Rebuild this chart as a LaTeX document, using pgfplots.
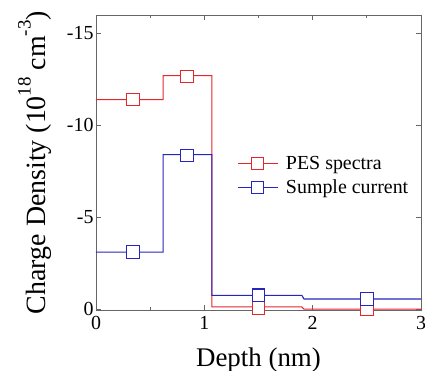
\documentclass[border=0pt]{standalone}
\usepackage{pgfplots}
\pgfplotsset{compat=1.18}
\usepackage{fontspec}
\setmainfont{Liberation Serif}
\definecolor{pesred}{rgb}{0.90,0.15,0.17}
\definecolor{scblue}{rgb}{0.15,0.15,0.75}
\newcommand{\sups}[1]{\raisebox{0.55em}{\fontsize{19}{19}\selectfont #1}}
\begin{document}
\begin{tikzpicture}
\useasboundingbox (-96bp,-61bp) rectangle (329bp,310bp);
\begin{axis}[
  scale only axis,
  width=325bp, height=295bp,
  xmin=0, xmax=3, ymin=-16, ymax=0.05,
  y dir=reverse,
  xtick={0,1,2,3}, ytick={-15,-10,-5,0},
  minor x tick num=1,
  tick align=inside,
  major tick length=5bp, minor tick length=3bp,
  axis line style={black!60, line width=0.8pt},
  every tick/.style={black!60, line width=0.8pt},
  /pgf/number format/assume math mode=true,
  tick label style={font=\fontsize{20}{22}\selectfont},
  xticklabel style={yshift=-3bp},
  yticklabel style={xshift=1bp},
  xlabel={Depth (nm)},
  ylabel={Charge Density (10\sups{18} cm\sups{-3})},
  xlabel style={font=\fontsize{27}{29}\selectfont, at={(axis description cs:0.5,0)}, anchor=base, yshift=-56bp},
  ylabel style={font=\fontsize{28}{30}\selectfont, at={(axis description cs:0,0.5)}, anchor=base, yshift=50bp},
  legend style={fill=none, draw=none, at={(0.434,0.53)}, anchor=north west,
    font=\fontsize{20}{22}\selectfont, row sep=5bp, inner sep=0pt},
  legend cell align=left,
  legend image code/.code={
    \draw[#1, line width=1.1pt] (0bp,0bp)--(40bp,0bp);
    \draw[#1, fill=white, line width=1.1pt] (14bp,-6bp) rectangle (26bp,6bp);
    \path (46bp,0bp);
  },
]
% step lines
\addplot[draw=pesred, line width=1.1pt, forget plot] coordinates {
(0,-11.4)(0.62,-11.4)(0.62,-12.7)(1.07,-12.7)(1.07,-0.12)(1.9,-0.12)(1.92,0)(3,0)};
\addplot[draw=scblue, line width=1.1pt, forget plot] coordinates {
(0,-3.1)(0.62,-3.1)(0.62,-8.4)(1.07,-8.4)(1.07,-0.75)(1.9,-0.75)(1.92,-0.55)(3,-0.55)};
% markers (these carry the legend entries)
\addplot[draw=pesred, only marks, mark=square*, mark size=6.3bp,
  mark options={draw=pesred, fill=white, line width=1.1pt}] coordinates {
(0.34,-11.4)(0.84,-12.65)(1.5,-0.05)(2.5,0.0)};
\addlegendentry{PES spectra}
\addplot[draw=scblue, only marks, mark=square*, mark size=6.3bp,
  mark options={draw=scblue, fill=white, line width=1.1pt}] coordinates {
(0.34,-3.1)(0.84,-8.35)(1.5,-0.75)(2.5,-0.55)};
\addlegendentry{Sumple current}
\end{axis}
\end{tikzpicture}
\end{document}
